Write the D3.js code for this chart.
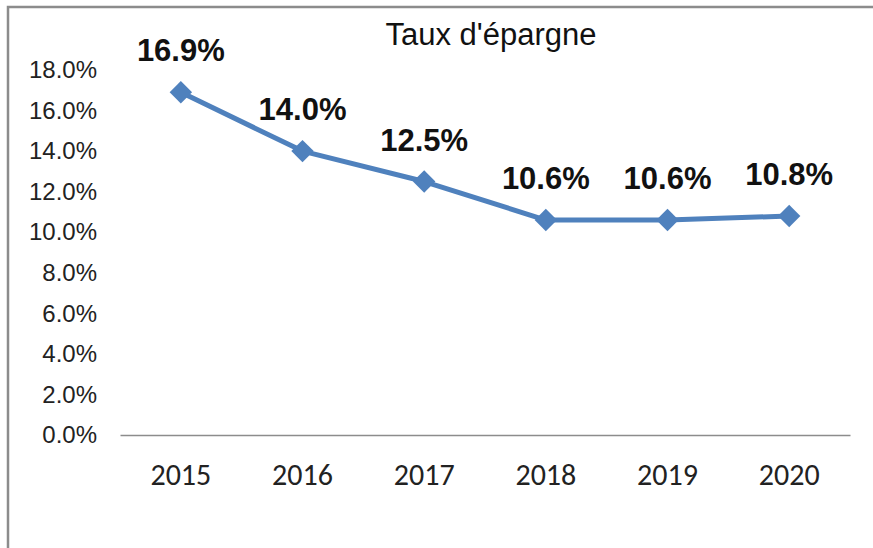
<!DOCTYPE html>
<html>
<head>
<meta charset="utf-8">
<script src="https://cdn.jsdelivr.net/npm/d3@7"></script>
<style>
  body { margin: 0; background: #fff; }
</style>
</head>
<body>
<div id="chart"></div>
<script>
var years = ["2015", "2016", "2017", "2018", "2019", "2020"];
var rates = [16.9, 14.0, 12.5, 10.6, 10.6, 10.8];
var yTicks = [0, 2, 4, 6, 8, 10, 12, 14, 16, 18];
var chartTitle = "Taux d'épargne";

var W = 873, H = 548;
var margin = {top: 70, right: 23, bottom: 113, left: 120},
    width = W - margin.left - margin.right,
    height = H - margin.top - margin.bottom;

var svg = d3.select("#chart")
  .append("svg")
    .attr("width", W)
    .attr("height", H);

// outer frame (only top and left edges are visible in the picture)
svg.append("rect")
    .attr("x", 8)
    .attr("y", 7)
    .attr("width", W + 20)
    .attr("height", H + 20)
    .attr("fill", "none")
    .attr("stroke", "#8c8c8c")
    .attr("stroke-width", 2.5);

var g = svg.append("g")
    .attr("transform", "translate(" + margin.left + "," + margin.top + ")");

var x = d3.scaleBand()
    .domain(years)
    .range([0, width]);

var y = d3.scaleLinear()
    .domain([0, 18])
    .range([height, 0]);

// x axis
var xAxis = g.append("g")
    .attr("transform", "translate(0," + height + ")")
    .call(d3.axisBottom(x).tickSize(0).tickPadding(29));
xAxis.select(".domain").attr("stroke", "#8c8c8c").attr("stroke-width", 1.5);
xAxis.selectAll("text")
    .attr("font-family", "Carlito, Calibri, Lato, sans-serif")
    .attr("font-size", "30px")
    .attr("fill", "#222");

// y axis labels only
var yAxis = g.append("g")
    .call(d3.axisLeft(y).tickValues(yTicks).tickSize(0).tickPadding(23)
      .tickFormat(function(d) { return d.toFixed(1) + "%"; }));
yAxis.select(".domain").remove();
yAxis.selectAll("text")
    .attr("font-family", "Liberation Sans, Arial, sans-serif")
    .attr("font-size", "24px")
    .attr("fill", "#222");

var data = years.map(function(d, i) { return {year: d, value: rates[i]}; });
var cx = function(d) { return x(d.year) + x.bandwidth() / 2; };

// line
g.append("path")
    .datum(data)
    .attr("fill", "none")
    .attr("stroke", "#4f81bd")
    .attr("stroke-width", 5)
    .attr("stroke-linejoin", "round")
    .attr("d", d3.line().x(cx).y(function(d) { return y(d.value); }));

// diamond markers
g.selectAll(".marker")
    .data(data)
    .enter()
    .append("path")
      .attr("class", "marker")
      .attr("fill", "#4f81bd")
      .attr("d", d3.symbol().type(d3.symbolDiamond2).size(320))
      .attr("transform", function(d) { return "translate(" + cx(d) + "," + y(d.value) + ")"; });

// value labels
g.selectAll(".lbl")
    .data(data)
    .enter()
    .append("text")
      .attr("class", "lbl")
      .attr("x", cx)
      .attr("y", function(d) { return y(d.value) - 31; })
      .attr("text-anchor", "middle")
      .attr("font-family", "Liberation Sans, Arial, sans-serif")
      .attr("font-weight", "bold")
      .attr("font-size", "31px")
      .attr("fill", "#111")
      .text(function(d) { return d.value.toFixed(1) + "%"; });

// title
svg.append("text")
    .attr("x", 491)
    .attr("y", 45)
    .attr("text-anchor", "middle")
    .attr("font-family", "Liberation Sans, Arial, sans-serif")
    .attr("font-size", "31px")
    .attr("fill", "#111")
    .text(chartTitle);
</script>
</body>
</html>
